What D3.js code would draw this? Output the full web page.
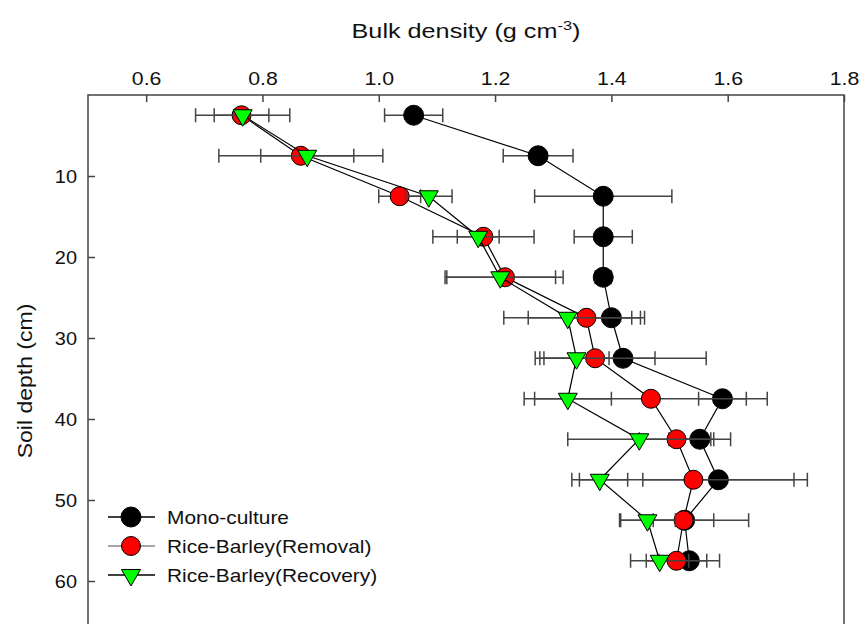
<!DOCTYPE html>
<html>
<head>
<meta charset="utf-8">
<script src="https://cdn.jsdelivr.net/npm/d3@7"></script>
<style>
    body { margin: 0; background: #fff; }
    text { font-family: "Liberation Sans", Arial, sans-serif; fill: #111; }
</style>
</head>
<body>
<div id="chart"></div>
<script>
// soil depth (cm) of each layer midpoint
const depths = [2.5, 7.5, 12.5, 17.5, 22.5, 27.5, 32.5, 37.5, 42.5, 47.5, 52.5, 57.5]

// bulk density (g cm-3) with error bar half widths
const mono = [1.06, 1.274, 1.386, 1.386, 1.386, 1.40, 1.42, 1.591, 1.552, 1.584, 1.526, 1.534]
const monoErr = [0.05, 0.06, 0.118, 0.05, 0.014, 0.05, 0.143, 0.041, 0.053, 0.13, 0.11, 0.052]

const removal = [0.764, 0.866, 1.036, 1.18, 1.217, 1.357, 1.372, 1.468, 1.512, 1.541, 1.524, 1.512]
const removalErr = [0.047, 0.141, 0.036, 0.087, 0.10, 0.10, 0.103, 0.2, 0.064, 0.196, 0.052, 0.052]

const recovery = [0.766, 0.877, 1.086, 1.171, 1.209, 1.325, 1.34, 1.325, 1.448, 1.38, 1.462, 1.483]
const recoveryErr = [0.081, 0.08, 0.04, 0.036, 0.095, 0.11, 0.056, 0.075, 0.123, 0.048, 0.048, 0.05]

const xTicks = [0.6, 0.8, 1.0, 1.2, 1.4, 1.6, 1.8]
const yTicks = [10, 20, 30, 40, 50, 60]

const series = [
    {name: "Mono-culture", values: mono, errors: monoErr, shape: "circle", r: 10, fill: "#000000", legendLine: "#000"},
    {name: "Rice-Barley(Removal)", values: removal, errors: removalErr, shape: "circle", r: 9.5, fill: "#ff0000", legendLine: "#888"},
    {name: "Rice-Barley(Recovery)", values: recovery, errors: recoveryErr, shape: "triangle", fill: "#00ff00", legendLine: "#000"}
]

const width = 862
const height = 624

const svg = d3.select("#chart")
    .append("svg")
    .attr("width", width)
    .attr("height", height)

const x = d3.scaleLinear().domain([0.5, 1.8]).range([88, 844])
const y = d3.scaleLinear().domain([0, 66]).range([95, 629.6])

// the original text is a bit wider than Arial, stretch it horizontally
function stretch(sel, factor) {
    sel.each(function() {
        const len = this.getComputedTextLength()
        d3.select(this)
            .attr("textLength", len * factor)
            .attr("lengthAdjust", "spacingAndGlyphs")
    })
}

// frame (bottom side falls outside the picture)
svg.append("rect")
    .attr("x", x(0.5))
    .attr("y", y(0))
    .attr("width", x(1.8) - x(0.5))
    .attr("height", y(66) - y(0))
    .attr("fill", "none")
    .attr("stroke", "#444")
    .attr("stroke-width", 1.5)

// top axis, ticks point inside
const xAxis = svg.append("g")
    .attr("transform", "translate(0," + y(0) + ")")
    .call(d3.axisTop(x).tickValues(xTicks).tickFormat(d3.format(".1f")).tickSizeInner(-7).tickSizeOuter(0).tickPadding(10))
xAxis.select(".domain").remove()
xAxis.selectAll("line").attr("stroke", "#444").attr("stroke-width", 1.5)
xAxis.selectAll("text").attr("font-size", 19).attr("fill", "#111").call(stretch, 1.12)

const yAxis = svg.append("g")
    .attr("transform", "translate(" + x(0.5) + ",0)")
    .call(d3.axisLeft(y).tickValues(yTicks).tickSizeInner(-7).tickSizeOuter(0).tickPadding(11))
yAxis.select(".domain").remove()
yAxis.selectAll("line").attr("stroke", "#444").attr("stroke-width", 1.5)
yAxis.selectAll("text").attr("font-size", 19).attr("fill", "#111").call(stretch, 1.05)

// axis titles
const titleG = svg.append("g")
const title = titleG.append("text")
    .attr("text-anchor", "middle")
    .attr("font-size", 20)
title.append("tspan").text("Bulk density (g cm")
title.append("tspan").attr("font-size", 13).attr("dy", -8).text("-3")
title.append("tspan").attr("dy", 8).text(")")
const titleW = title.node().getBBox().width
titleG.attr("transform", "translate(" + (x(0.5) + x(1.8)) / 2 + ",38) scale(" + (229 / titleW) + ",1)")

svg.append("text")
    .attr("transform", "translate(32,381) rotate(-90)")
    .attr("text-anchor", "middle")
    .attr("font-size", 20)
    .text("Soil depth (cm)")
    .call(stretch, 1.15)

const triangle = d3.symbol().type(d3.symbolTriangle).size(156)

function drawMarker(g, s, cx, cy) {
    if (s.shape === "circle") {
        g.append("circle")
            .attr("cx", cx)
            .attr("cy", cy)
            .attr("r", s.r)
            .attr("fill", s.fill)
            .attr("stroke", "#000")
            .attr("stroke-width", 1)
    } else {
        g.append("path")
            .attr("d", triangle())
            .attr("transform", "translate(" + cx + "," + cy + ") rotate(180)")
            .attr("fill", s.fill)
            .attr("stroke", "#000")
            .attr("stroke-width", 1)
    }
}

const line = d3.line()
    .x(function(d) { return x(d.v) })
    .y(function(d) { return y(d.depth) })

// each series: error bars, connecting line, markers
series.forEach(function(s) {
    const pts = s.values.map(function(v, i) {
        return {v: v, e: s.errors[i], depth: depths[i]}
    })
    const g = svg.append("g")

    const bars = g.selectAll("g.err")
        .data(pts)
        .enter()
        .append("g")
        .attr("stroke", "#444")
        .attr("stroke-width", 1.5)
    bars.append("line")
        .attr("x1", function(d) { return x(d.v - d.e) })
        .attr("x2", function(d) { return x(d.v + d.e) })
        .attr("y1", function(d) { return y(d.depth) })
        .attr("y2", function(d) { return y(d.depth) })
    bars.append("line")
        .attr("x1", function(d) { return x(d.v - d.e) })
        .attr("x2", function(d) { return x(d.v - d.e) })
        .attr("y1", function(d) { return y(d.depth) - 7 })
        .attr("y2", function(d) { return y(d.depth) + 7 })
    bars.append("line")
        .attr("x1", function(d) { return x(d.v + d.e) })
        .attr("x2", function(d) { return x(d.v + d.e) })
        .attr("y1", function(d) { return y(d.depth) - 7 })
        .attr("y2", function(d) { return y(d.depth) + 7 })

    g.append("path")
        .datum(pts)
        .attr("d", line)
        .attr("fill", "none")
        .attr("stroke", "#000")
        .attr("stroke-width", 1.2)

    pts.forEach(function(d) {
        drawMarker(g, s, x(d.v), y(d.depth))
    })
})

// legend
const legend = svg.append("g")
series.forEach(function(s, i) {
    const ly = 517 + i * 29
    legend.append("line")
        .attr("x1", 108)
        .attr("x2", 155)
        .attr("y1", ly)
        .attr("y2", ly)
        .attr("stroke", s.legendLine)
        .attr("stroke-width", 1.5)
    drawMarker(legend, s, 131, ly)
    legend.append("text")
        .attr("x", 167)
        .attr("y", ly)
        .attr("dy", "0.35em")
        .attr("font-size", 19)
        .text(s.name)
        .call(stretch, 1.1)
})
</script>
</body>
</html>
